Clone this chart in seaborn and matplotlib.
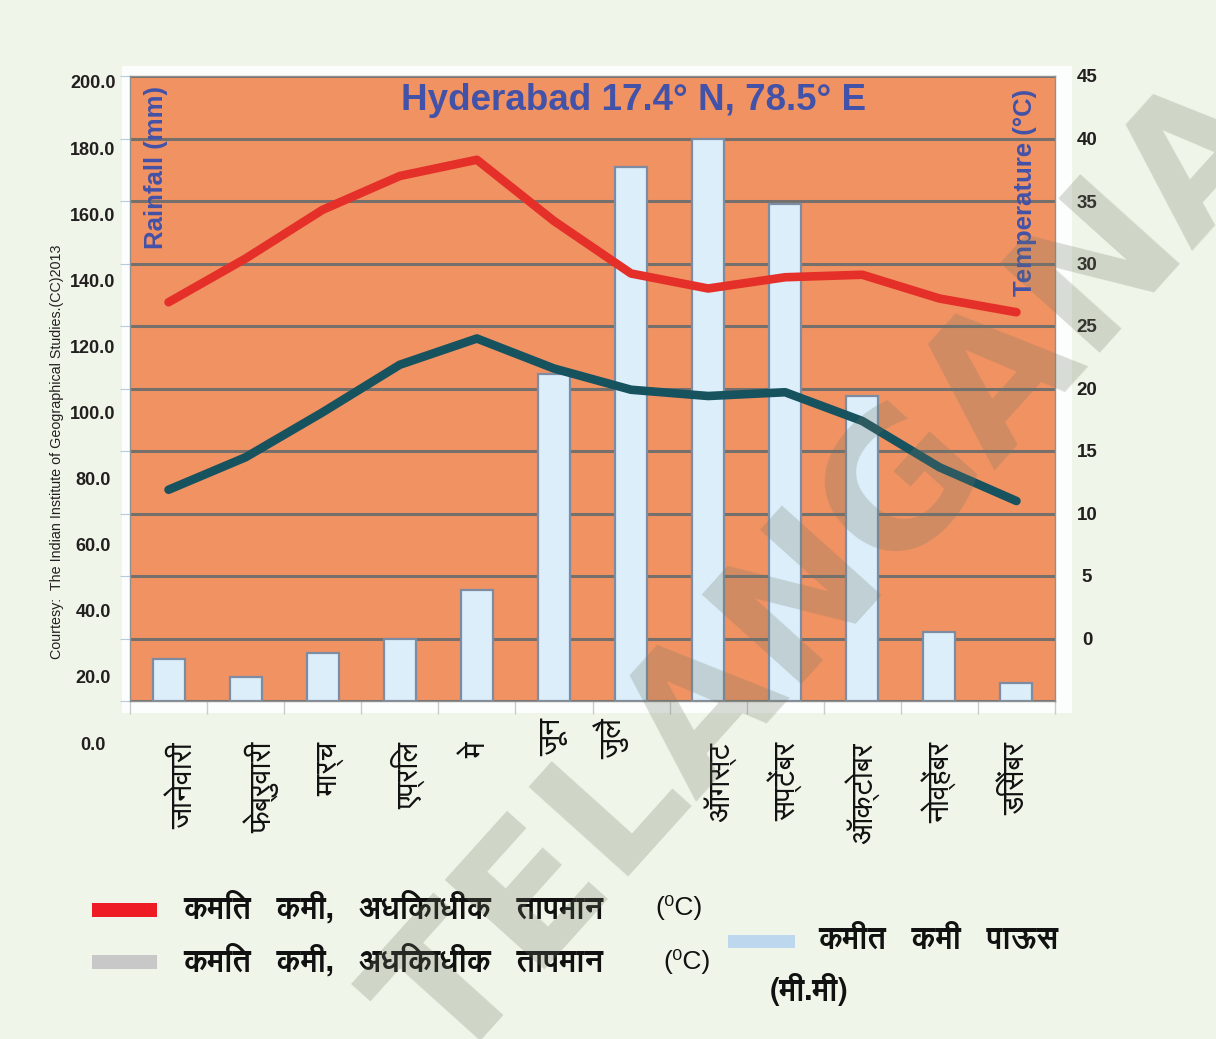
import numpy as np
import pandas as pd
import seaborn as sns
import matplotlib
matplotlib.use("Agg")
import matplotlib.pyplot as plt
import matplotlib.patheffects as pe
from matplotlib import font_manager
from matplotlib.ft2font import FT2Font
from matplotlib.patches import Rectangle
from matplotlib.transforms import ScaledTranslation

# ---------------- data ----------------
months = ["जानेवारी", "फेब्रुवारी", "मार्च", "एप्रिल", "मे", "जून", "जुलै",
          "ऑगस्ट", "सप्टेंबर", "ऑक्टोबर", "नोव्हेंबर", "डिसेंबर"]
rainfall_mm = [13.4, 7.8, 15.3, 20.0, 35.5, 104.5, 170.8, 179.8, 159.2, 97.7, 22.2, 5.7]
max_temp_c = [26.9, 30.4, 34.3, 37.0, 38.3, 33.4, 29.2, 28.0, 28.9, 29.1, 27.2, 26.1]
min_temp_c = [11.9, 14.5, 18.1, 21.9, 24.0, 21.6, 19.9, 19.4, 19.7, 17.4, 13.7, 11.0]
rain_ticks = [0, 20, 40, 60, 80, 100, 120, 140, 160, 180, 200]
temp_ticks = [0, 5, 10, 15, 20, 25, 30, 35, 40, 45]

title = "Hyderabad 17.4° N, 78.5° E"
rain_label = "Rainfall (mm)"
temp_label = "Temperature (°C)"
courtesy = "Courtesy:  The Indian Institute of Geographical Studies.(CC)2013"
legend_max = "कमित   कमी,   अधिकाधीक   तापमान"
legend_min = "कमित   कमी,   अधिकाधीक   तापमान"
legend_unit = "(\u2070C)"
legend_rain_1 = "कमीत   कमी   पाऊस"
legend_rain_2 = "(मी.मी)"
watermark = "TELANGANA"

# ---------------- fonts ----------------
deva_fonts = []
for f in font_manager.fontManager.ttflist:
    try:
        if FT2Font(f.fname).get_char_index(ord("क")):
            deva_fonts.append(f)
    except Exception:
        pass
bold_deva = [f for f in deva_fonts if (isinstance(f.weight, int) and f.weight >= 600)
             or str(f.weight).lower() in ("bold", "semibold", "demibold", "heavy", "black")]
deva_name = None
if bold_deva:
    deva_name = bold_deva[0].name
elif deva_fonts:
    deva_name = deva_fonts[0].name
DEVA = [deva_name, "DejaVu Sans"] if deva_name else ["DejaVu Sans"]
fake_bold = [] if bold_deva else [pe.withStroke(linewidth=1.3, foreground="#111111")]

names = {f.name for f in font_manager.fontManager.ttflist}
has_narrow = "Liberation Sans Narrow" in names
NARROW = ["Liberation Sans Narrow", "DejaVu Sans"] if has_narrow else ["Liberation Sans", "DejaVu Sans"]
ARIAL = ["Liberation Sans", "DejaVu Sans"]

plt.rcParams["font.family"] = ARIAL

# ---------------- layout ----------------
W, H = 1216, 1039
BG = "#EFF5E8"
ORANGE = "#F19262"
BLUE = "#4252A8"
fig = plt.figure(figsize=(W / 100, H / 100), dpi=100, facecolor=BG)

# white chart area
fig.add_artist(Rectangle((122 / W, 1 - 713 / H), (1072 - 122) / W, (713 - 66) / H,
                         transform=fig.transFigure, facecolor="#FCFEFE",
                         edgecolor="none", zorder=0))

L, R, T, B = 130, 1055, 76, 701
ax = fig.add_axes([L / W, 1 - B / H, (R - L) / W, (B - T) / H])
ax.set_facecolor(ORANGE)

df = pd.DataFrame({"month": months, "rain": rainfall_mm,
                   "tmax": max_temp_c, "tmin": min_temp_c})
df["pos"] = np.arange(len(months))

sns.barplot(data=df, x="month", y="rain", order=months, ax=ax, color="#DBEEFA",
            saturation=1, width=0.415, edgecolor="#7D8CA3", linewidth=1.6, zorder=2)
ax.set_xlim(-0.5, 11.5)
ax.set_ylim(0, 200)
ax.set_yticks(rain_ticks)
ax.yaxis.grid(True, color="#76706C", linewidth=2.2, zorder=1)
ax.set_axisbelow(True)
ax.set_xlabel("")
ax.set_ylabel("")
for s in ax.spines.values():
    s.set_color("#8F8F8F")
    s.set_linewidth(1.0)
ax.tick_params(axis="y", left=True, length=7, color="#B8CADC", labelleft=False)

# month labels
ax.set_xticks(np.arange(12))
ax.set_xticks(np.arange(-0.5, 12, 1), minor=True)
ax.set_xticklabels(months, rotation=90, fontsize=21.5, family=DEVA, va="top", ha="center",
                   color="#111111")
ax.tick_params(axis="x", which="major", length=0, pad=29.5)
ax.tick_params(axis="x", which="minor", length=9, color="#C9CCCF", width=1)
dx = {0: 16, 1: 16, 2: 8, 3: 8, 6: -20, 7: 12}
dy = {5: 24, 6: 24}
for i, lab in enumerate(ax.get_xticklabels()):
    ox, oy = dx.get(i, 0) / 100, dy.get(i, 0) / 100
    if ox or oy:
        lab.set_transform(lab.get_transform() + ScaledTranslation(ox, oy, fig.dpi_scale_trans))

# temperature axis
ax2 = ax.twinx()
sns.lineplot(data=df, x="pos", y="tmax", ax=ax2, color="#E5302A", linewidth=6.2,
             solid_capstyle="round", solid_joinstyle="round")
sns.lineplot(data=df, x="pos", y="tmin", ax=ax2, color="#17525F", linewidth=6.2,
             solid_capstyle="round", solid_joinstyle="round")
ax2.set_ylim(-5, 45)
ax2.set_yticks(temp_ticks)
ax2.set_yticklabels([str(v) for v in temp_ticks])
ax2.set_ylabel("")
ax2.set_xlabel("")
ax2.tick_params(axis="y", length=0, pad=23, labelsize=13.5, labelcolor="#231F20")
for t in ax2.get_yticklabels():
    t.set_horizontalalignment("center")
    t.set_fontweight("bold")
    t.set_family(NARROW)
for s in ax2.spines.values():
    s.set_visible(False)

# left rainfall labels (as printed, slightly offset from grid)
lab_ax = fig.add_axes([L / W, 1 - 743 / H, (R - L) / W, (743 - 82) / H], zorder=-1)
lab_ax.set_ylim(0, 200)
lab_ax.set_yticks(rain_ticks)
lab_ax.set_yticklabels([f"{v:.1f}" for v in rain_ticks])
lab_ax.set_xticks([])
lab_ax.patch.set_visible(False)
for s in lab_ax.spines.values():
    s.set_visible(False)
lab_ax.tick_params(axis="y", length=0, pad=26.6, labelsize=13, labelcolor="#231F20")
for t in lab_ax.get_yticklabels():
    t.set_horizontalalignment("center")
    t.set_fontweight("bold")

# texts inside plot
ax.text(0.544, 0.9615, title, transform=ax.transAxes, ha="center", va="center",
        fontsize=26.5, fontweight="bold", color=BLUE, family=ARIAL, zorder=5)
fs_lab = 20.5 if has_narrow else 18.5
ax.text(0.028, 0.853, rain_label, transform=ax.transAxes, rotation=90, ha="center",
        va="center", fontsize=fs_lab, fontweight="bold", color=BLUE, family=NARROW, zorder=5)
ax2.text(0.9676, 0.814, temp_label, transform=ax.transAxes, rotation=90, ha="center",
         va="center", fontsize=fs_lab, fontweight="bold", color=BLUE, family=NARROW, zorder=5)

fig.text(57 / W, 1 - 452 / H, courtesy, rotation=90, ha="center", va="center",
         fontsize=12 if has_narrow else 10.3, color="#231F20", family=NARROW)

# legend
def swatch(x0, y0, x1, y1, c):
    fig.add_artist(Rectangle((x0 / W, 1 - y1 / H), (x1 - x0) / W, (y1 - y0) / H,
                             transform=fig.transFigure, facecolor=c, edgecolor="none"))

swatch(92, 903, 157, 917, "#EE1C25")
swatch(92, 955, 157, 969, "#C8C8C8")
swatch(728, 935, 795, 948, "#BDD7EE")
kw = dict(ha="left", va="center", fontsize=22, fontweight="bold", family=DEVA,
          color="#111111", path_effects=fake_bold)
fig.text(183 / W, 1 - 908 / H, legend_max, **kw)
fig.text(183 / W, 1 - 961 / H, legend_min, **kw)
fig.text(818 / W, 1 - 940 / H, legend_rain_1, **kw)
fig.text(770 / W, 1 - 990 / H, legend_rain_2, **kw)
fig.text(655 / W, 1 - 908 / H, legend_unit, ha="left", va="center", fontsize=19,
         family=NARROW, color="#111111")
fig.text(663 / W, 1 - 961 / H, legend_unit, ha="left", va="center", fontsize=19,
         family=NARROW, color="#111111")

# watermark
fig.text(830 / W, 1 - 575 / H, watermark, rotation=48, ha="center", va="center",
         fontsize=132, fontweight="bold", color="#6E7664", alpha=0.25,
         family=["DejaVu Sans"], zorder=20)

fig.savefig("out.png", dpi=100, facecolor=BG)
